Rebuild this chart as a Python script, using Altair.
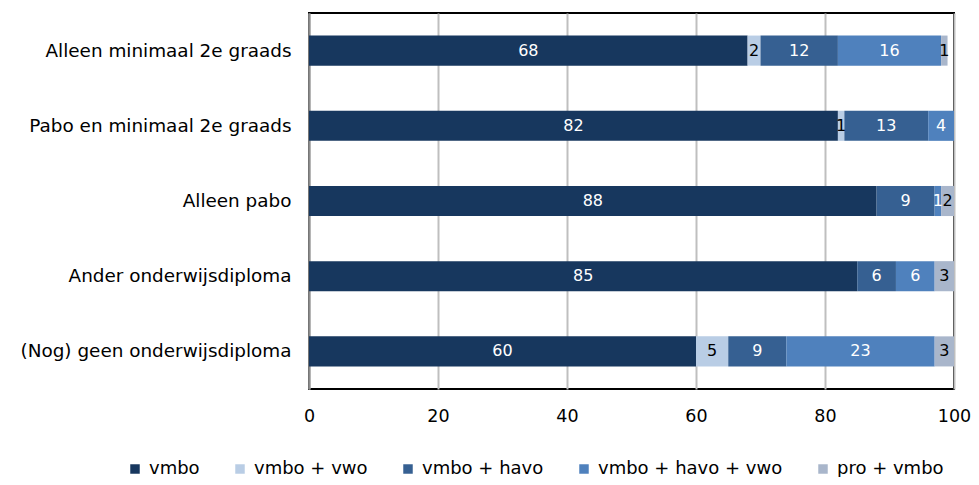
import altair as alt
import pandas as pd

categories = [
    "Alleen minimaal 2e graads",
    "Pabo en minimaal 2e graads",
    "Alleen pabo",
    "Ander onderwijsdiploma",
    "(Nog) geen onderwijsdiploma",
]
series = ["vmbo", "vmbo + vwo", "vmbo + havo", "vmbo + havo + vwo", "pro + vmbo"]
colors = ["#17375E", "#B9CDE5", "#366092", "#4F81BD", "#A9B6CB"]
label_colors = ["white", "black", "white", "white", "black"]

vmbo = [68, 82, 88, 85, 60]
vmbo_vwo = [2, 1, 0, 0, 5]
vmbo_havo = [12, 13, 9, 6, 9]
vmbo_havo_vwo = [16, 4, 1, 6, 23]
pro_vmbo = [1, 0, 2, 3, 3]

values = [vmbo, vmbo_vwo, vmbo_havo, vmbo_havo_vwo, pro_vmbo]
rows = []
for si, s in enumerate(series):
    for ci, c in enumerate(categories):
        rows.append({"cat": c, "series": s, "order": si, "value": values[si][ci],
                     "lc": label_colors[si]})
df = pd.DataFrame(rows)

FONT = "DejaVu Sans"

base = alt.Chart(df).transform_filter("datum.value > 0").transform_stack(
    stack="value", groupby=["cat"], as_=["x0", "x1"],
    sort=[alt.SortField("order", order="ascending")]
).transform_calculate(mid="(datum.x0 + datum.x1) / 2")

y_enc = alt.Y("cat:N", sort=categories, title=None,
              scale=alt.Scale(paddingInner=0.6, paddingOuter=0.3),
              axis=alt.Axis(labelFont=FONT, labelFontSize=18.4, labelColor="black",
                            ticks=False, labelPadding=18, domainColor="#8C8C8C",
                            domainWidth=2, labelLimit=400))

bars = base.mark_bar().encode(
    x=alt.X("x0:Q", scale=alt.Scale(domain=[0, 100], nice=False),
            title=None,
            axis=alt.Axis(values=[0, 20, 40, 60, 80, 100], labelFont=FONT,
                          labelFontSize=17.5, labelColor="black", ticks=False,
                          labelPadding=18, labelFlush=False, labelOverlap=False,
                          domain=False, grid=True,
                          gridColor="#BFBFBF", gridWidth=2)),
    x2="x1:Q",
    y=y_enc,
    color=alt.Color("series:N", sort=series,
                    scale=alt.Scale(domain=series, range=colors),
                    legend=alt.Legend(title=None, orient="none", direction="horizontal",
                                      legendX=-183, legendY=447, columns=5,
                                      symbolType="square", symbolSize=90,
                                      symbolStrokeWidth=0, labelFont=FONT,
                                      labelFontSize=18, labelColor="black",
                                      columnPadding=31, labelOffset=5,
                                      labelLimit=300)),
)

texts = base.mark_text(font=FONT, fontSize=16, baseline="middle", align="center").encode(
    x=alt.X("mid:Q"),
    y=alt.Y("cat:N", sort=categories),
    text=alt.Text("value:Q"),
    color=alt.Color("lc:N", scale=None, legend=None),
)

chart = alt.layer(bars, texts).properties(
    width=645, height=376,
    autosize=alt.AutoSizeParams(type="none"),
    padding={"left": 301, "top": 5, "right": 17, "bottom": 88},
).configure_view(stroke="black", strokeWidth=2)

chart.save("out.html", embed_options={"renderer": "svg", "actions": False})
